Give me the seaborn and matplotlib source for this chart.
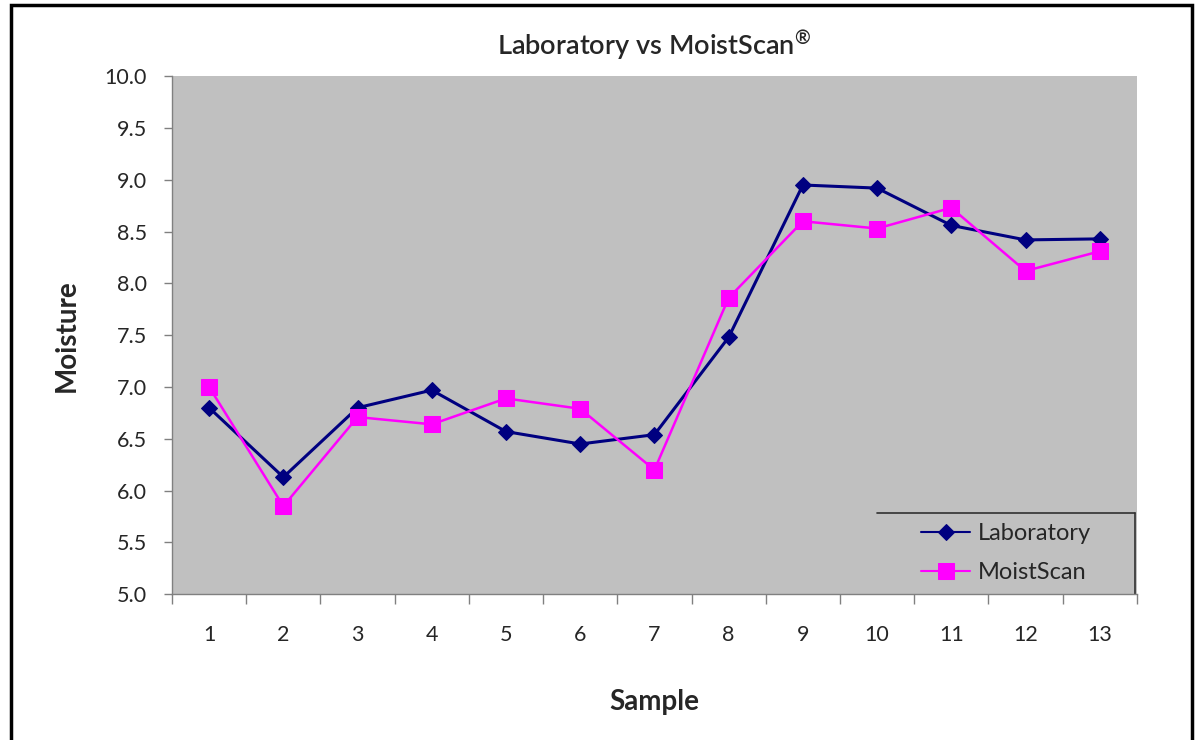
import pandas as pd
import matplotlib.pyplot as plt
import seaborn as sns
from matplotlib.patches import Rectangle
from matplotlib.lines import Line2D
from matplotlib.ticker import FixedLocator, FormatStrFormatter

# values
samples = list(range(1, 14))
laboratory = [6.80, 6.13, 6.80, 6.97, 6.57, 6.45, 6.54, 7.48, 8.95, 8.92, 8.56, 8.42, 8.43]
moistscan = [7.00, 5.85, 6.71, 6.64, 6.89, 6.79, 6.20, 7.86, 8.60, 8.53, 8.73, 8.12, 8.31]
y_ticks = [5.0, 5.5, 6.0, 6.5, 7.0, 7.5, 8.0, 8.5, 9.0, 9.5, 10.0]

df = pd.DataFrame({'Sample': samples, 'Laboratory': laboratory, 'MoistScan': moistscan})

sns.set_style("white")
plt.rcParams['font.family'] = ['Lato', 'DejaVu Sans']
plt.rcParams['mathtext.default'] = 'regular'

fig = plt.figure(figsize=(12.03, 7.40), dpi=100)
ax = fig.add_axes([0.143, 0.197, 0.802, 0.700])
ax.set_facecolor('#C0C0C0')

sns.lineplot(data=df, x='Sample', y='Laboratory', ax=ax, color='#000080', linewidth=2.2,
             marker='D', markersize=8, markeredgecolor='#000080', label='Laboratory')
sns.lineplot(data=df, x='Sample', y='MoistScan', ax=ax, color='#FF00FF', linewidth=1.8,
             marker='s', markersize=12, markeredgecolor='#FF00FF', label='MoistScan')

ax.set_xlim(0.5, 13.5)
ax.set_ylim(5.0, 10.0)
ax.set_yticks(y_ticks)
ax.yaxis.set_major_formatter(FormatStrFormatter('%.1f'))
ax.set_xticks(samples)
ax.set_xticklabels([str(s) for s in samples])
ax.xaxis.set_minor_locator(FixedLocator([s + 0.5 for s in range(0, 14)]))
ax.tick_params(axis='x', which='major', length=0, labelsize=15.5, pad=22)
ax.tick_params(axis='x', which='minor', length=7, width=1, color='#808080', direction='out')
ax.tick_params(axis='y', which='major', length=6, width=1, color='#808080', direction='out', labelsize=15.5, pad=12)
ax.tick_params(left=True, bottom=True, which='both')

for side in ['top', 'right']:
    ax.spines[side].set_visible(False)
for side in ['left', 'bottom']:
    ax.spines[side].set_color('#808080')
    ax.spines[side].set_linewidth(1)

ax.set_xlabel('Sample', fontsize=20, fontweight='bold', labelpad=32)
ax.set_ylabel('Moisture', fontsize=20, fontweight='bold', labelpad=18)
ax.set_title('Laboratory vs MoistScan$^{\u00ae}$', fontsize=19.5, fontweight='semibold', pad=15)

# legend: entries without own frame, box edges drawn separately (top and right only, as in the original)
leg = ax.legend(loc='center', bbox_to_anchor=(0.864, 0.079), fontsize=17, frameon=False,
                handlelength=2.1, labelspacing=0.75, handletextpad=0.3)
for h in leg.legend_handles:
    h.set_linewidth(1.5)
ax.add_line(Line2D([0.731, 0.998], [0.156, 0.156], transform=ax.transAxes, color='#303030', linewidth=1.2, clip_on=False))
ax.add_line(Line2D([0.998, 0.998], [0.0, 0.156], transform=ax.transAxes, color='#303030', linewidth=1.2, clip_on=False))

# outer chart border
fig.patches.append(Rectangle((0.009, -0.01), 0.982, 1.003, transform=fig.transFigure,
                             fill=False, edgecolor='black', linewidth=2.5))

fig.savefig('out.png', dpi=100)
